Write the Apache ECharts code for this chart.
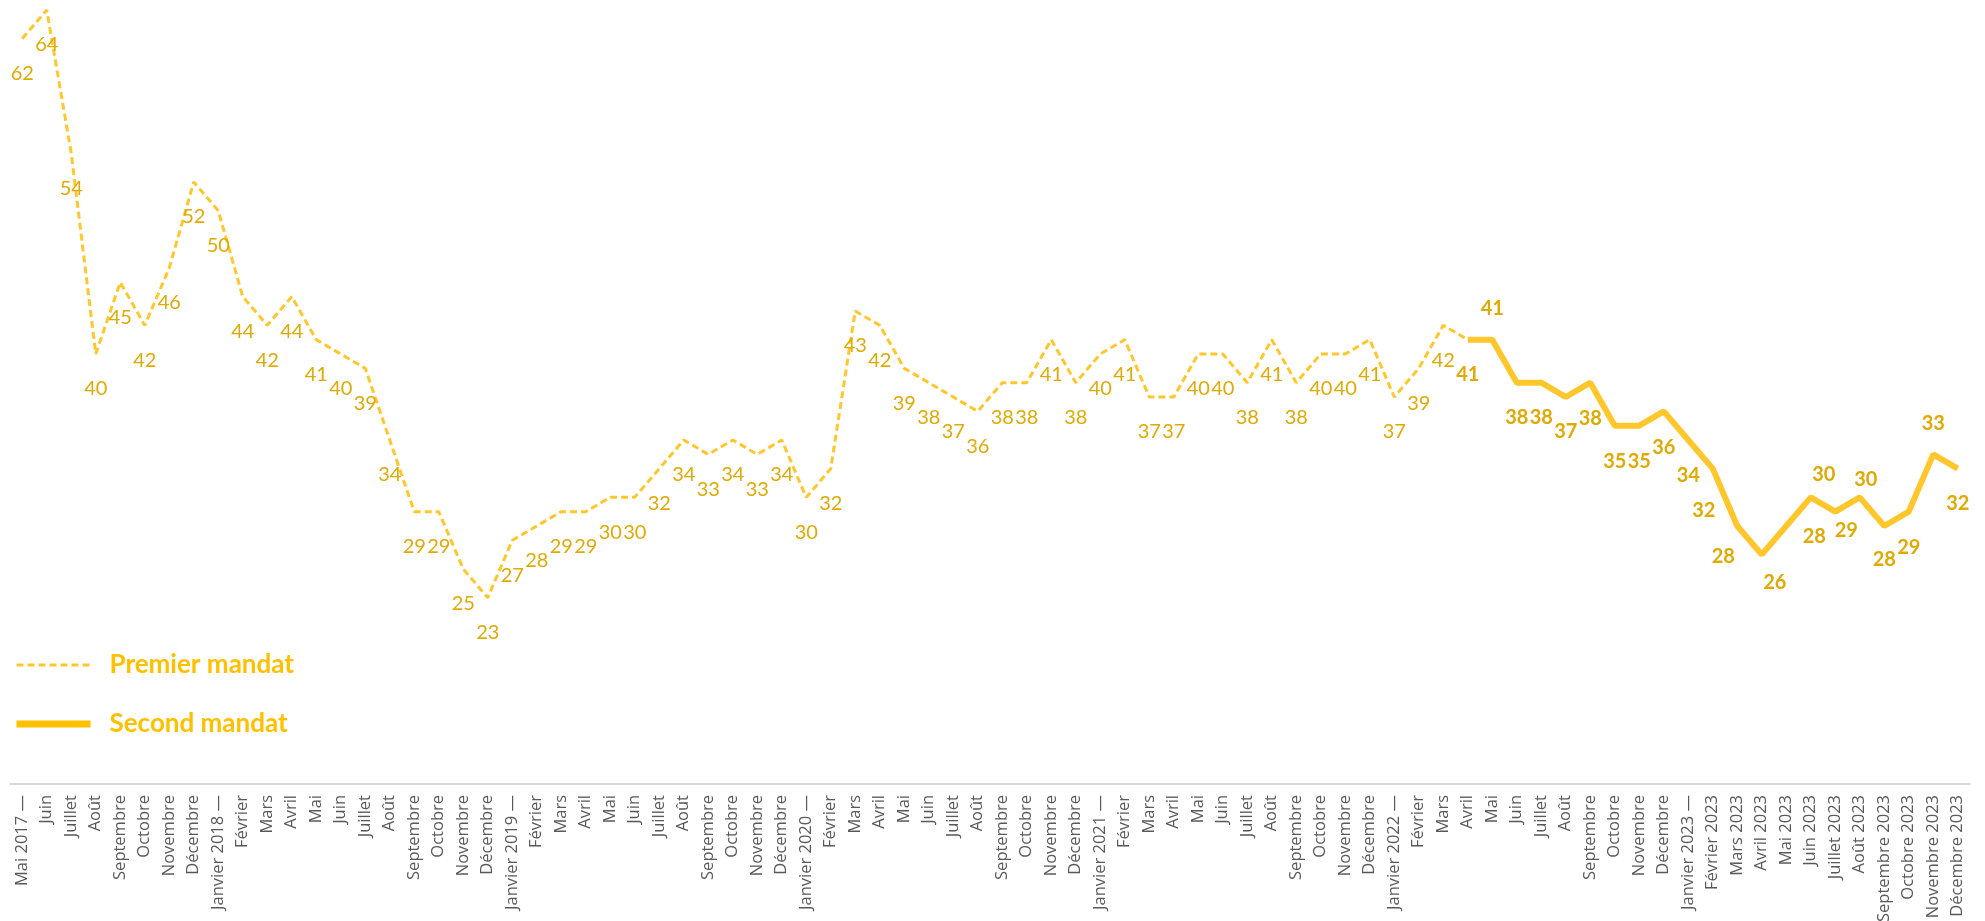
<!DOCTYPE html>
<html>
<head>
<meta charset="utf-8">
<script src="https://cdn.jsdelivr.net/npm/echarts@6/dist/echarts.min.js"></script>
<style>
html,body{margin:0;padding:0;background:#fff;}
#chart{width:1985px;height:921px;}
</style>
</head>
<body>
<div id="chart"></div>
<script>
var categories = [
  "Mai 2017 —","Juin","Juillet","Août","Septembre","Octobre","Novembre","Décembre",
  "Janvier 2018 —","Février","Mars","Avril","Mai","Juin","Juillet","Août","Septembre","Octobre","Novembre","Décembre",
  "Janvier 2019 —","Février","Mars","Avril","Mai","Juin","Juillet","Août","Septembre","Octobre","Novembre","Décembre",
  "Janvier 2020 —","Février","Mars","Avril","Mai","Juin","Juillet","Août","Septembre","Octobre","Novembre","Décembre",
  "Janvier 2021 —","Février","Mars","Avril","Mai","Juin","Juillet","Août","Septembre","Octobre","Novembre","Décembre",
  "Janvier 2022 —","Février","Mars","Avril","Mai","Juin","Juillet","Août","Septembre","Octobre","Novembre","Décembre",
  "Janvier 2023 —","Février 2023","Mars 2023","Avril 2023","Mai 2023","Juin 2023","Juillet 2023","Août 2023","Septembre 2023","Octobre 2023","Novembre 2023","Décembre 2023"
];
// Premier mandat: Mai 2017 -> Avril 2022
var premierMandat = [62,64,54,40,45,42,46,52,
  50,44,42,44,41,40,39,34,29,29,25,23,
  27,28,29,29,30,30,32,34,33,34,33,34,
  30,32,43,42,39,38,37,36,38,38,41,38,
  40,41,37,37,40,40,38,41,38,40,40,41,
  37,39,42,41];
// Second mandat: Avril 2022 -> Décembre 2023
var secondMandat = [41,41,38,38,37,38,35,35,36,34,32,28,26,28,30,29,30,28,29,33,32];
var secondStart = 59;

// label placement (style only)
var secondLabelOffsets = [[0,35],[0,-31],[0,35],[0,35],[0,35],[0,36],[0,36],[0,36],[0,36],[0,36],
  [-9,42],[-14,31],[13,28],[28,11],[13,-23],[11,19],[6,-18],[0,34],[0,36],[0,-31],[0,35]];

var LINE = '#FFC72C';
var LABEL = '#E0AA05';

var s1 = [], s2 = [];
for (var i = 0; i < categories.length; i++) {
  if (i < premierMandat.length) {
    if (i === premierMandat.length - 1) s1.push({value: premierMandat[i], label: {show: false}});
    else s1.push(premierMandat[i]);
  } else s1.push('-');
  if (i >= secondStart) {
    var k = i - secondStart;
    s2.push({value: secondMandat[k], label: {offset: secondLabelOffsets[k]}});
  } else s2.push('-');
}

var chart = echarts.init(document.getElementById('chart'), null, {renderer: 'canvas'});
chart.setOption({
  animation: false,
  backgroundColor: '#fff',
  grid: {left: 10, right: 15, top: 10, bottom: 137, containLabel: false, outerBoundsMode: 'none'},
  xAxis: {
    type: 'category',
    data: categories,
    boundaryGap: true,
    axisTick: {show: false},
    axisLine: {lineStyle: {color: '#D9D9D9', width: 2}},
    axisLabel: {rotate: 90, interval: 0, fontSize: 16.5, color: '#595959', fontFamily: 'Open Sans', margin: 11}
  },
  yAxis: {type: 'value', min: 10, max: 64, show: false, splitLine: {show: false}},
  legend: {
    orient: 'vertical',
    left: 13,
    top: 650,
    padding: 0,
    itemWidth: 74,
    itemHeight: 30,
    itemGap: 29,
    selectedMode: false,
    textStyle: {fontFamily: 'Lato', fontWeight: 'bold', fontSize: 26, color: '#FFC000', padding: [0,0,0,14], lineHeight: 30},
    data: [
      {name: 'Premier mandat', itemStyle: {opacity: 0}, lineStyle: {width: 3, type: [7,4], color: LINE}},
      {name: 'Second mandat', itemStyle: {opacity: 0}, lineStyle: {width: 7, type: 'solid', color: '#FFC000'}}
    ]
  },
  series: [
    {
      name: 'Premier mandat',
      type: 'line',
      data: s1,
      symbol: 'circle',
      symbolSize: 0,
      itemStyle: {color: LINE},
      lineStyle: {color: LINE, width: 3, type: [7,4]},
      label: {show: true, position: 'inside', offset: [0,35], fontFamily: 'Lato', fontSize: 20, color: LABEL},
      emphasis: {disabled: true},
      silent: true
    },
    {
      name: 'Second mandat',
      type: 'line',
      data: s2,
      symbol: 'circle',
      symbolSize: 0,
      itemStyle: {color: LINE},
      lineStyle: {color: LINE, width: 6},
      label: {show: true, position: 'inside', fontFamily: 'Lato', fontWeight: 'bold', fontSize: 20, color: LABEL},
      emphasis: {disabled: true},
      silent: true
    }
  ]
});
</script>
</body>
</html>
